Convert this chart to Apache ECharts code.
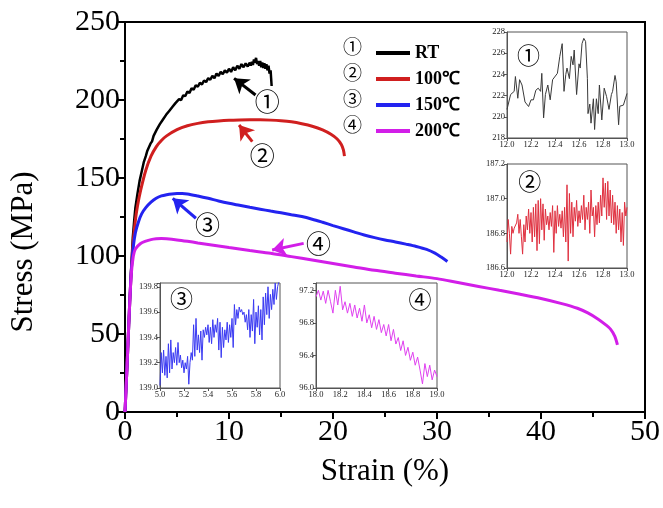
<!DOCTYPE html>
<html>
<head>
<meta charset="utf-8">
<script src="https://cdn.jsdelivr.net/npm/echarts@6/dist/echarts.min.js"></script>
<style>
html,body{margin:0;padding:0;background:#fff;}
#chart{width:663px;height:508px;}
</style>
</head>
<body>
<div id="chart"></div>
<script>
// Tensile stress-strain curves at four test temperatures, with zoomed serration insets.
const seriesNames = ['RT', '100℃', '150℃', '200℃'];
const circledNums = ['①', '②', '③', '④'];
const lineColors = ['#000000', '#d01f1f', '#2323f0', '#d21ee8'];
const insetColors = ['#3a3a3a', '#e0303f', '#3a3af2', '#e040f0'];

// [strain %, stress MPa]
const rtCurve = [
  [0,0],[0.2,30],[0.4,62],[0.6,92],[0.75,112],[0.9,124],[1.0,131],[1.2,140],[1.4,148],[1.6,154],
  [1.8,160],[2.0,164],[2.15,167.5],[2.3,168],[2.45,172],[2.6,173.5],[2.75,177],[2.9,178],[3.05,181],
  [3.2,181.5],[3.35,184.5],[3.5,185],[3.65,187.5],[3.8,187.5],[3.95,190.5],[4.1,190],[4.25,193],
  [4.4,192.5],[4.55,195.5],[4.7,195],[4.85,198],[5.0,197.5],[5.2,200.5],[5.4,200],[5.6,203],
  [5.8,202.5],[6.0,205.5],[6.2,204.5],[6.4,207.5],[6.6,206.5],[6.8,209.5],[7.0,208.5],[7.2,211],
  [7.4,210],[7.6,212.5],[7.8,211.5],[8.0,214],[8.2,213],[8.4,215.5],[8.6,214],[8.8,217],[9.0,215.5],
  [9.2,218],[9.4,216.5],[9.6,219],[9.8,217.5],[10.0,220],[10.2,218],[10.4,221],[10.6,219],[10.8,222],
  [11.0,220],[11.2,223],[11.4,221],[11.6,223.5],[11.8,221.5],[12.0,224],[12.1,222],[12.2,224.5],
  [12.3,222.5],[12.4,226],[12.5,224],[12.6,227],[12.7,223],[12.8,225],[12.9,222],[13.0,225],
  [13.1,221],[13.2,224],[13.3,220.5],[13.4,223.5],[13.5,220],[13.6,223],[13.7,219],[13.8,222],
  [13.9,217],[14.0,219],[14.1,209]
];
const t100Curve = [
  [0,0],[0.2,30],[0.4,62],[0.6,90],[0.8,110],[1.0,123],[1.2,132],[1.5,142],[2.0,155],[2.5,164],
  [3.0,170],[3.5,174],[4.0,177],[5.0,181],[6.0,183.5],[7.0,185],[8.0,186],[9.0,186.6],[10,187],
  [11,187.2],[12,187.3],[13,187.3],[14,187.1],[15,186.7],[16,186],[17,184.8],[18,183.2],[19,180.8],
  [19.8,178],[20.4,175],[20.8,171.5],[21.0,168],[21.1,164]
];
const t150Curve = [
  [0,0],[0.2,30],[0.4,62],[0.6,90],[0.8,106],[1.0,115],[1.3,122],[1.6,127],[2.0,131],[2.5,134.5],
  [3.0,137],[3.5,138.5],[4.0,139.3],[4.5,139.8],[5.0,140],[5.5,140],[6.0,139.8],[7.0,138.5],
  [8.0,137],[9.0,135.3],[10,133.8],[11,132.5],[12,131.2],[13,130],[14,128.8],[15,127.7],[16,126.5],
  [17,125.3],[18,123.6],[19,121.6],[20,119.5],[21,117.5],[22,115.5],[23,113.5],[24,111.8],
  [25,110.3],[26,109],[27,107.6],[28,106.1],[29,104.2],[29.8,101.8],[30.4,99.3],[31.0,96.5]
];
const t200Curve = [
  [0,0],[0.2,30],[0.4,62],[0.6,88],[0.8,100],[1.0,104.5],[1.5,108],[2.0,109.5],[2.5,110.5],
  [3.0,111],[3.5,111.2],[4.0,111],[5.0,110.3],[6.0,109.4],[7.0,108.4],[8.0,107.4],[9.0,106.4],
  [10,105.4],[12,103.5],[14,101.8],[16,99.6],[18,97.4],[20,95.2],[22,93],[24,90.8],[26,89],
  [28,87.2],[30,85.5],[32,83],[34,80.5],[36,78],[38,75.5],[40,72.8],[42,69.5],[43.5,66.5],
  [44.5,63.5],[45.5,59.5],[46.2,56],[46.7,53],[47.1,48.5],[47.35,43]
];

// Zoomed windows
const inset1Data = [
  [12.00,220.7],[12.03,222.1],[12.06,222.4],[12.07,223.8],[12.09,221.75],[12.105,223.5],[12.125,223.0],
  [12.15,221.4],[12.18,220.97],[12.2,221.6],[12.22,221.6],[12.24,222.5],[12.26,222.7],[12.28,222.4],
  [12.29,224.1],[12.305,219.9],[12.32,222.1],[12.34,223.0],[12.36,221.6],[12.38,223.5],[12.42,224.1],
  [12.44,225.7],[12.46,226.9],[12.475,222.4],[12.49,224.0],[12.5,224.6],[12.52,223.6],[12.535,225.7],
  [12.55,224.9],[12.56,226.3],[12.58,222.1],[12.6,225.0],[12.61,224.6],[12.625,226.9],[12.64,227.4],
  [12.655,227.1],[12.67,223.6],[12.675,220.3],[12.69,221.2],[12.70,219.4],[12.72,221.7],[12.73,218.8],
  [12.745,221.7],[12.76,220.3],[12.77,223.0],[12.79,219.7],[12.81,222.7],[12.83,221.9],[12.85,220.7],
  [12.87,222.1],[12.88,222.4],[12.90,223.9],[12.91,223.3],[12.93,219.25],[12.94,221.0],[12.97,221.1],
  [13.0,222.2]
];
const inset2Data = [
  [12.00,186.75],[12.01,186.88],[12.02,186.80],[12.03,186.68],[12.04,186.84],[12.05,186.80],[12.06,186.83],
  [12.07,186.82],[12.08,186.86],[12.09,186.91],[12.10,186.80],[12.11,186.88],[12.12,186.78],[12.13,186.68],
  [12.14,186.85],[12.15,186.75],[12.16,186.90],[12.17,186.82],[12.18,186.94],[12.19,186.80],[12.20,186.92],
  [12.21,186.75],[12.22,186.95],[12.23,186.78],[12.24,186.97],[12.25,186.70],[12.26,186.99],[12.27,186.74],
  [12.28,187.00],[12.29,186.82],[12.30,186.97],[12.31,186.76],[12.32,186.94],[12.33,186.85],[12.34,186.90],
  [12.35,186.82],[12.36,186.92],[12.37,186.84],[12.38,186.96],[12.39,186.69],[12.40,186.93],[12.41,186.80],
  [12.42,186.96],[12.43,186.84],[12.44,186.91],[12.45,186.83],[12.46,186.93],[12.47,186.78],[12.48,186.95],
  [12.49,186.75],[12.50,187.08],[12.51,186.64],[12.52,187.03],[12.53,186.80],[12.54,186.98],[12.55,186.78],
  [12.56,186.95],[12.57,186.87],[12.58,186.99],[12.59,186.84],[12.60,186.93],[12.61,186.86],[12.62,186.96],
  [12.63,186.88],[12.64,187.02],[12.65,186.82],[12.66,186.95],[12.67,186.88],[12.68,186.98],[12.69,186.80],
  [12.70,187.05],[12.71,186.90],[12.72,186.95],[12.73,186.78],[12.74,186.96],[12.75,186.85],[12.76,186.98],
  [12.77,186.86],[12.78,187.02],[12.79,186.90],[12.80,187.12],[12.81,186.95],[12.82,187.09],[12.83,186.88],
  [12.84,187.10],[12.85,186.90],[12.86,187.05],[12.87,186.86],[12.88,187.02],[12.89,186.85],[12.90,186.98],
  [12.91,186.80],[12.92,186.96],[12.93,186.82],[12.94,186.94],[12.95,186.75],[12.96,186.92],[12.97,186.73],
  [12.98,186.98],[12.99,186.90],[13.00,186.95]
];
const inset3Data = [
  [5.00,139.02],[5.01,139.28],[5.02,139.12],[5.03,139.30],[5.04,139.10],[5.05,139.25],[5.06,139.08],
  [5.07,139.35],[5.08,139.12],[5.09,139.38],[5.10,139.15],[5.11,139.28],[5.12,139.20],[5.13,139.32],
  [5.14,139.18],[5.15,139.36],[5.16,139.20],[5.17,139.26],[5.18,139.16],[5.19,139.22],[5.20,139.12],
  [5.21,139.20],[5.22,139.15],[5.23,139.25],[5.24,139.03],[5.25,139.20],[5.26,139.28],[5.27,139.22],
  [5.28,139.50],[5.29,139.25],[5.30,139.55],[5.31,139.30],[5.32,139.42],[5.33,139.28],[5.34,139.45],
  [5.35,139.22],[5.36,139.46],[5.37,139.40],[5.38,139.48],[5.39,139.42],[5.40,139.50],[5.41,139.36],
  [5.42,139.48],[5.43,139.35],[5.44,139.54],[5.45,139.40],[5.46,139.50],[5.47,139.44],[5.48,139.55],
  [5.49,139.30],[5.50,139.52],[5.51,139.24],[5.52,139.48],[5.53,139.32],[5.54,139.46],[5.55,139.38],
  [5.56,139.52],[5.57,139.36],[5.58,139.50],[5.59,139.40],[5.60,139.55],[5.61,139.32],[5.62,139.66],
  [5.63,139.50],[5.64,139.62],[5.65,139.55],[5.66,139.64],[5.67,139.60],[5.68,139.62],[5.69,139.58],
  [5.70,139.60],[5.71,139.52],[5.72,139.58],[5.73,139.46],[5.74,139.62],[5.75,139.40],[5.76,139.58],
  [5.77,139.45],[5.78,139.70],[5.79,139.35],[5.80,139.60],[5.81,139.48],[5.82,139.65],[5.83,139.42],
  [5.84,139.62],[5.85,139.38],[5.86,139.72],[5.87,139.50],[5.88,139.75],[5.89,139.58],[5.90,139.80],
  [5.91,139.55],[5.92,139.74],[5.93,139.62],[5.94,139.78],[5.95,139.66],[5.96,139.83],[5.97,139.70],
  [5.98,139.80],[5.99,139.84]
];
const inset4Data = [
  [18.00,97.12],[18.02,97.20],[18.04,97.08],[18.06,97.19],[18.08,97.04],[18.10,97.20],[18.12,97.06],
  [18.14,96.92],[18.16,97.20],[18.18,97.02],[18.20,97.25],[18.22,96.96],[18.24,97.06],[18.26,96.92],
  [18.28,97.04],[18.30,96.88],[18.32,97.02],[18.34,96.86],[18.36,96.98],[18.38,96.82],[18.40,97.02],
  [18.42,96.80],[18.44,96.90],[18.46,96.74],[18.48,96.88],[18.50,96.72],[18.52,96.84],[18.54,96.68],
  [18.56,96.78],[18.58,96.64],[18.60,96.78],[18.62,96.58],[18.64,96.72],[18.66,96.54],[18.68,96.62],
  [18.70,96.46],[18.72,96.58],[18.74,96.40],[18.76,96.50],[18.78,96.34],[18.80,96.44],[18.82,96.28],
  [18.84,96.38],[18.86,96.22],[18.88,96.05],[18.90,96.30],[18.92,96.14],[18.94,96.28],[18.96,96.10],
  [18.98,96.22],[19.00,96.14]
];

// Axis ranges of the zoom windows: [xMin, xMax, xStep, yMin, yMax, yStep, yDecimals]
const insetRanges = [
  [12, 13, 0.2, 218, 228, 2, 0],
  [12, 13, 0.2, 186.6, 187.2, 0.2, 1],
  [5, 6, 0.2, 139.0, 139.83, 0.2, 1],
  [18, 19, 0.2, 96.0, 97.29, 0.4, 1]
];
// Circled tag position inside each zoom window, in its own data units
const insetTags = [[12.18, 225.8], [12.19, 187.10], [5.18, 139.71], [18.86, 97.09]];

// Arrows on the main plot: [tail, head] in strain/stress units, and tag positions
const arrowLines = [
  [[12.55, 203.2], [10.49, 213.9]],
  [[12.24, 173.3], [10.97, 184.0]],
  [[6.82, 124.2], [4.59, 137.0]],
  [[17.18, 108.1], [14.15, 103.8]]
];
const arrowTags = [[13.67, 198.9], [13.19, 164.7], [7.93, 119.9], [18.61, 108.1]];

const SERIF = "'Liberation Serif','Times New Roman',serif";
const CIRC = "'Noto Sans CJK SC','DejaVu Sans',sans-serif";

const mainCurves = [rtCurve, t100Curve, t150Curve, t200Curve];
const insetData = [inset1Data, inset2Data, inset3Data, inset4Data];

const insetBoxes = [
  {left: 507, top: 32, width: 120, height: 106},
  {left: 507, top: 164, width: 120, height: 104},
  {left: 160, top: 283, width: 120, height: 105},
  {left: 316, top: 283, width: 121, height: 105}
];

const grids = [{left: 122, top: 22, width: 523, height: 390, show: true, borderColor: '#000', borderWidth: 2, backgroundColor: 'transparent'}];
insetBoxes.forEach(b => grids.push(Object.assign({show: true, borderColor: '#555', borderWidth: 1, backgroundColor: '#fff', z: 3}, b)));

function near(v, step) { return Math.abs(v / step - Math.round(v / step)) < 1e-6; }

const xAxes = [{
  type: 'value', gridIndex: 0, min: 0, max: 50, interval: 10,
  axisLine: {lineStyle: {color: '#000', width: 2}},
  axisTick: {length: 7, lineStyle: {width: 2, color: '#000'}},
  minorTick: {show: true, splitNumber: 2, length: 5, lineStyle: {width: 2, color: '#000'}},
  splitLine: {show: false},
  axisLabel: {fontSize: 30, fontFamily: SERIF, color: '#000', margin: 5},
  name: 'Strain (%)', nameLocation: 'middle', nameGap: 44,
  nameTextStyle: {fontSize: 31, fontFamily: SERIF, color: '#000'}
}];
const yAxes = [{
  type: 'value', gridIndex: 0, min: 0, max: 250, interval: 50,
  axisLine: {lineStyle: {color: '#000', width: 2}},
  axisTick: {length: 7, lineStyle: {width: 2, color: '#000'}},
  minorTick: {show: true, splitNumber: 2, length: 5, lineStyle: {width: 2, color: '#000'}},
  splitLine: {show: false},
  axisLabel: {fontSize: 30, fontFamily: SERIF, color: '#000', margin: 5},
  name: 'Stress (MPa)', nameLocation: 'middle', nameGap: 86,
  nameTextStyle: {fontSize: 31, fontFamily: SERIF, color: '#000', padding: [0, 70, 0, 0]}
}];

insetRanges.forEach((r, i) => {
  const common = {
    type: 'value', gridIndex: i + 1, z: 4,
    axisLine: {lineStyle: {color: '#555', width: 1}},
    axisTick: {length: 3, lineStyle: {color: '#555', width: 1}},
    splitLine: {show: false}
  };
  xAxes.push(Object.assign({}, common, {
    min: r[0], max: r[1], interval: r[2],
    axisLabel: {fontSize: 8.5, fontFamily: SERIF, color: '#222', margin: 2,
      formatter: v => v.toFixed(1)}
  }));
  yAxes.push(Object.assign({}, common, {
    min: r[3], max: r[4], interval: r[5],
    axisLabel: {fontSize: 8.5, fontFamily: SERIF, color: '#222', margin: 2,
      formatter: v => near(v - r[3], r[5]) ? v.toFixed(r[6]) : ''}
  }));
});

const series = [];
mainCurves.forEach((data, i) => {
  series.push({
    name: seriesNames[i], type: 'line', xAxisIndex: 0, yAxisIndex: 0,
    data: data, showSymbol: false, smooth: i === 0 ? false : 0.3,
    lineStyle: {color: lineColors[i], width: i === 0 ? 2.5 : 3},
    itemStyle: {color: lineColors[i]},
    z: 2,
    markLine: {
      silent: true, symbol: ['none', 'arrow'], symbolSize: 14,
      lineStyle: {color: lineColors[i], width: 3, type: 'solid'},
      label: {show: false},
      emphasis: {disabled: true},
      data: [[{coord: arrowLines[i][0]}, {coord: arrowLines[i][1]}]]
    },
    markPoint: {
      silent: true, symbol: 'circle', symbolSize: 1,
      itemStyle: {color: 'rgba(0,0,0,0)'},
      label: {show: true, position: 'inside', formatter: circledNums[i],
        fontSize: 25, fontFamily: CIRC, color: '#000'},
      data: [{coord: arrowTags[i]}]
    }
  });
});
insetData.forEach((data, i) => {
  series.push({
    name: 'zoom' + (i + 1), type: 'line', xAxisIndex: i + 1, yAxisIndex: i + 1,
    data: data, showSymbol: false, z: 5,
    lineStyle: {color: insetColors[i], width: 1},
    markPoint: {
      silent: true, symbol: 'circle', symbolSize: 1,
      itemStyle: {color: 'rgba(0,0,0,0)'},
      label: {show: true, position: 'inside', formatter: circledNums[i],
        fontSize: 23, fontFamily: CIRC, color: '#000'},
      data: [{coord: insetTags[i]}]
    }
  });
});

const legendTop = 39, legendRow = 26;
const chart = echarts.init(document.getElementById('chart'), null, {renderer: 'canvas'});
chart.setOption({
  animation: false,
  backgroundColor: '#fff',
  grid: grids,
  xAxis: xAxes,
  yAxis: yAxes,
  legend: {
    data: seriesNames, orient: 'vertical', left: 371, top: legendTop,
    icon: 'rect', itemWidth: 34, itemHeight: 4, itemGap: legendRow - 18,
    selectedMode: false,
    textStyle: {fontSize: 18, fontWeight: 'bold', fontFamily: SERIF, color: '#000', lineHeight: 18}
  },
  graphic: circledNums.map((c, i) => ({
    type: 'text', left: 343, top: legendTop + i * legendRow - 2,
    style: {text: c, fontSize: 19, fontFamily: CIRC, fill: '#000'}
  })),
  series: series
});
</script>
</body>
</html>
